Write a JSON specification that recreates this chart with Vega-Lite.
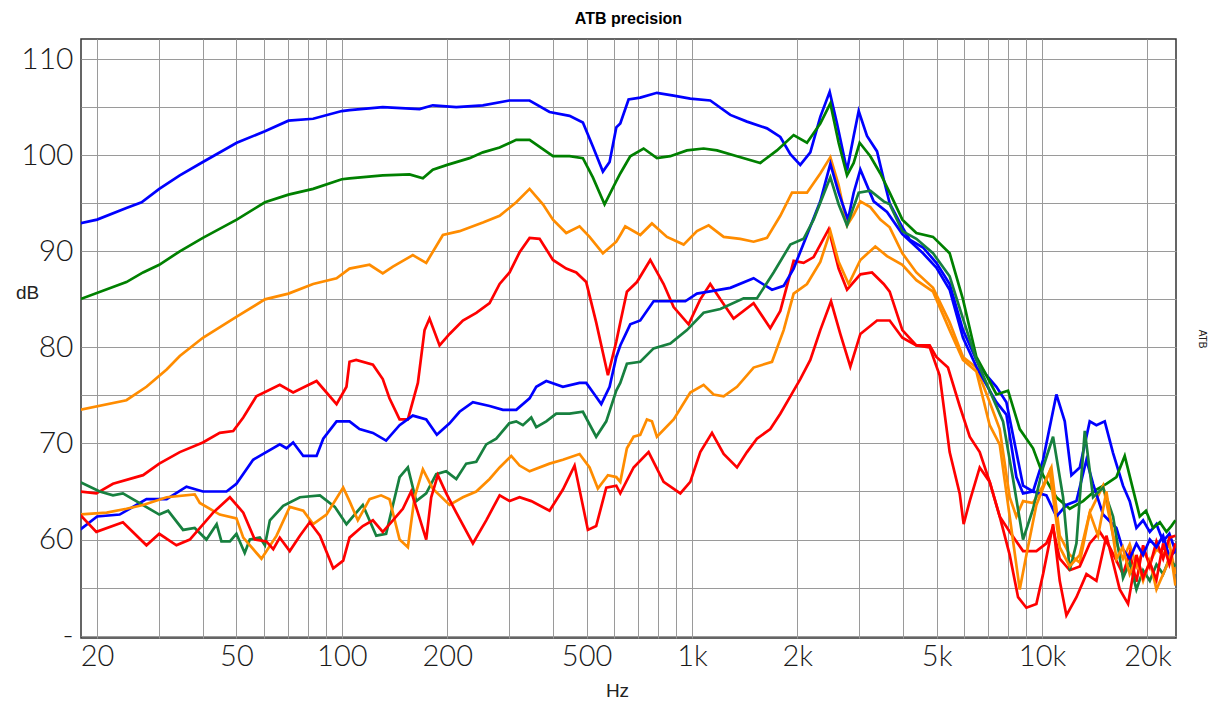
{
"$schema": "https://vega.github.io/schema/vega-lite/v6.json",
"width": 1095, "height": 599,
"autosize": "none",
"padding": {"left": 81, "top": 39, "right": 37, "bottom": 66},
"background": "white",
"title": {"text": "ATB precision", "fontSize": 16, "font": "Liberation Sans", "fontWeight": "bold", "color": "#000", "offset": 12, "anchor": "middle"},
"config": {"view": {"stroke": "#333", "strokeWidth": 1.5}},
"datasets": {
"curves": [
{"s":"B1","f":17.85,"d":92.9},{"s":"B1","f":20,"d":93.3},{"s":"B1","f":24.25,"d":94.5},{"s":"B1","f":26.8,"d":95.1},{"s":"B1","f":30.1,"d":96.5},{"s":"B1","f":34.45,"d":97.9},{"s":"B1","f":40.1,"d":99.3},{"s":"B1","f":50.1,"d":101.3},{"s":"B1","f":60.3,"d":102.5},{"s":"B1","f":70.4,"d":103.6},{"s":"B1","f":82.8,"d":103.8},{"s":"B1","f":100,"d":104.6},{"s":"B1","f":105.2,"d":104.7},{"s":"B1","f":130.9,"d":105.0},{"s":"B1","f":166.7,"d":104.8},{"s":"B1","f":181.9,"d":105.2},{"s":"B1","f":212.3,"d":105.0},{"s":"B1","f":252.9,"d":105.2},{"s":"B1","f":300.8,"d":105.7},{"s":"B1","f":343.8,"d":105.7},{"s":"B1","f":392,"d":104.5},{"s":"B1","f":447.1,"d":104.1},{"s":"B1","f":488.1,"d":103.4},{"s":"B1","f":521.2,"d":100.9},{"s":"B1","f":556.8,"d":98.3},{"s":"B1","f":581.8,"d":99.3},{"s":"B1","f":608,"d":102.9},{"s":"B1","f":624.2,"d":103.3},{"s":"B1","f":659.2,"d":105.8},{"s":"B1","f":711.8,"d":106.0},{"s":"B1","f":794.3,"d":106.5},{"s":"B1","f":886.6,"d":106.2},{"s":"B1","f":989.1,"d":105.9},{"s":"B1","f":1128,"d":105.7},{"s":"B1","f":1287,"d":104.2},{"s":"B1","f":1436,"d":103.5},{"s":"B1","f":1638,"d":102.8},{"s":"B1","f":1788,"d":101.9},{"s":"B1","f":1910,"d":100.1},{"s":"B1","f":2039,"d":99.0},{"s":"B1","f":2178,"d":100.3},{"s":"B1","f":2326,"d":104.0},{"s":"B1","f":2474,"d":106.6},{"s":"B1","f":2596,"d":103.3},{"s":"B1","f":2773,"d":98.4},{"s":"B1","f":2897,"d":102.0},{"s":"B1","f":2994,"d":104.6},{"s":"B1","f":3162,"d":102.0},{"s":"B1","f":3378,"d":100.4},{"s":"B1","f":3529,"d":97.5},{"s":"B1","f":3671,"d":95.0},{"s":"B1","f":3990,"d":92.5},{"s":"B1","f":4187,"d":91.2},{"s":"B1","f":4571,"d":90.4},{"s":"B1","f":4989,"d":88.8},{"s":"B1","f":5446,"d":86.6},{"s":"B1","f":5945,"d":81.8},{"s":"B1","f":6492,"d":78.7},{"s":"B1","f":6934,"d":77.1},{"s":"B1","f":7406,"d":75.9},{"s":"B1","f":7909,"d":74.3},{"s":"B1","f":8446,"d":69.1},{"s":"B1","f":8826,"d":65.6},{"s":"B1","f":9425,"d":65.0},{"s":"B1","f":10066,"d":68.3},{"s":"B1","f":10989,"d":75.1},{"s":"B1","f":11610,"d":72.3},{"s":"B1","f":12131,"d":66.7},{"s":"B1","f":12815,"d":67.5},{"s":"B1","f":13682,"d":72.3},{"s":"B1","f":14298,"d":71.9},{"s":"B1","f":15101,"d":72.3},{"s":"B1","f":15953,"d":69.0},{"s":"B1","f":17033,"d":65.6},{"s":"B1","f":17799,"d":64.0},{"s":"B1","f":18600,"d":61.2},{"s":"B1","f":19434,"d":62.0},{"s":"B1","f":20310,"d":60.8},{"s":"B1","f":21220,"d":61.6},{"s":"B1","f":22170,"d":59.8},{"s":"B1","f":23100,"d":60.6},{"s":"B1","f":24044,"d":58.8},

{"s":"G1","f":17.85,"d":85.0},{"s":"G1","f":24.25,"d":86.8},{"s":"G1","f":27.06,"d":87.8},{"s":"G1","f":30.1,"d":88.6},{"s":"G1","f":34.45,"d":90.0},{"s":"G1","f":40.1,"d":91.4},{"s":"G1","f":50.1,"d":93.3},{"s":"G1","f":60.3,"d":95.1},{"s":"G1","f":70.4,"d":95.9},{"s":"G1","f":82.8,"d":96.5},{"s":"G1","f":100,"d":97.5},{"s":"G1","f":105.2,"d":97.6},{"s":"G1","f":130.9,"d":97.9},{"s":"G1","f":156.1,"d":98.0},{"s":"G1","f":170.4,"d":97.6},{"s":"G1","f":181.9,"d":98.5},{"s":"G1","f":200,"d":99.0},{"s":"G1","f":231.6,"d":99.7},{"s":"G1","f":252.9,"d":100.3},{"s":"G1","f":282.3,"d":100.8},{"s":"G1","f":314.9,"d":101.6},{"s":"G1","f":343.8,"d":101.6},{"s":"G1","f":400.9,"d":99.9},{"s":"G1","f":447.1,"d":99.9},{"s":"G1","f":488.1,"d":99.7},{"s":"G1","f":521.2,"d":97.7},{"s":"G1","f":562.9,"d":94.9},{"s":"G1","f":608,"d":97.3},{"s":"G1","f":624.2,"d":98.1},{"s":"G1","f":666.5,"d":99.9},{"s":"G1","f":727.6,"d":100.7},{"s":"G1","f":794.3,"d":99.7},{"s":"G1","f":867.3,"d":99.9},{"s":"G1","f":967.6,"d":100.5},{"s":"G1","f":1079.7,"d":100.7},{"s":"G1","f":1179,"d":100.5},{"s":"G1","f":1345,"d":99.9},{"s":"G1","f":1568,"d":99.2},{"s":"G1","f":1749,"d":100.5},{"s":"G1","f":1952,"d":102.1},{"s":"G1","f":2131,"d":101.3},{"s":"G1","f":2326,"d":103.3},{"s":"G1","f":2485,"d":105.4},{"s":"G1","f":2624,"d":101.3},{"s":"G1","f":2773,"d":97.9},{"s":"G1","f":2897,"d":99.2},{"s":"G1","f":3013,"d":101.3},{"s":"G1","f":3232,"d":99.9},{"s":"G1","f":3452,"d":98.1},{"s":"G1","f":3671,"d":96.1},{"s":"G1","f":3990,"d":93.3},{"s":"G1","f":4375,"d":91.9},{"s":"G1","f":4882,"d":91.5},{"s":"G1","f":5446,"d":89.8},{"s":"G1","f":5945,"d":85.0},{"s":"G1","f":6492,"d":79.0},{"s":"G1","f":6934,"d":77.1},{"s":"G1","f":7406,"d":75.1},{"s":"G1","f":7996,"d":75.5},{"s":"G1","f":8634,"d":71.5},{"s":"G1","f":9425,"d":69.5},{"s":"G1","f":10066,"d":66.7},{"s":"G1","f":10989,"d":64.4},{"s":"G1","f":11995,"d":63.2},{"s":"G1","f":13096,"d":64.0},{"s":"G1","f":14298,"d":65.2},{"s":"G1","f":15268,"d":65.8},{"s":"G1","f":16306,"d":66.5},{"s":"G1","f":17223,"d":68.7},{"s":"G1","f":18197,"d":65.2},{"s":"G1","f":19010,"d":62.4},{"s":"G1","f":19800,"d":63.0},{"s":"G1","f":20760,"d":61.2},{"s":"G1","f":21700,"d":61.8},{"s":"G1","f":22660,"d":60.8},{"s":"G1","f":23400,"d":61.4},{"s":"G1","f":24044,"d":62.0},

{"s":"O1","f":17.85,"d":73.5},{"s":"O1","f":24.25,"d":74.5},{"s":"O1","f":27.67,"d":75.9},{"s":"O1","f":31.6,"d":77.7},{"s":"O1","f":34.45,"d":79.1},{"s":"O1","f":40.1,"d":81.0},{"s":"O1","f":50.1,"d":83.2},{"s":"O1","f":60.3,"d":85.0},{"s":"O1","f":70.4,"d":85.6},{"s":"O1","f":82.8,"d":86.6},{"s":"O1","f":96.6,"d":87.2},{"s":"O1","f":105.2,"d":88.2},{"s":"O1","f":120.0,"d":88.6},{"s":"O1","f":130.9,"d":87.7},{"s":"O1","f":139.9,"d":88.4},{"s":"O1","f":159.5,"d":89.6},{"s":"O1","f":174.2,"d":88.8},{"s":"O1","f":194.4,"d":91.7},{"s":"O1","f":216.9,"d":92.1},{"s":"O1","f":252.9,"d":93.0},{"s":"O1","f":282.3,"d":93.7},{"s":"O1","f":314.9,"d":95.1},{"s":"O1","f":343.8,"d":96.5},{"s":"O1","f":375.3,"d":94.9},{"s":"O1","f":400.9,"d":93.3},{"s":"O1","f":437.5,"d":91.9},{"s":"O1","f":477.5,"d":92.6},{"s":"O1","f":510.0,"d":91.5},{"s":"O1","f":556.8,"d":89.8},{"s":"O1","f":608,"d":91.0},{"s":"O1","f":624.2,"d":91.7},{"s":"O1","f":644.9,"d":92.6},{"s":"O1","f":711.8,"d":91.7},{"s":"O1","f":768.6,"d":92.9},{"s":"O1","f":848.4,"d":91.5},{"s":"O1","f":946.7,"d":90.7},{"s":"O1","f":1033.4,"d":92.1},{"s":"O1","f":1116,"d":92.7},{"s":"O1","f":1232,"d":91.5},{"s":"O1","f":1374,"d":91.3},{"s":"O1","f":1500,"d":91.0},{"s":"O1","f":1638,"d":91.4},{"s":"O1","f":1788,"d":93.7},{"s":"O1","f":1931,"d":96.1},{"s":"O1","f":2131,"d":96.1},{"s":"O1","f":2326,"d":98.1},{"s":"O1","f":2485,"d":99.8},{"s":"O1","f":2624,"d":96.9},{"s":"O1","f":2773,"d":92.7},{"s":"O1","f":2897,"d":93.8},{"s":"O1","f":3027,"d":95.2},{"s":"O1","f":3232,"d":94.6},{"s":"O1","f":3452,"d":93.3},{"s":"O1","f":3671,"d":92.5},{"s":"O1","f":3990,"d":89.8},{"s":"O1","f":4375,"d":87.8},{"s":"O1","f":4882,"d":86.2},{"s":"O1","f":5446,"d":82.6},{"s":"O1","f":5945,"d":79.0},{"s":"O1","f":6492,"d":77.9},{"s":"O1","f":7087,"d":74.3},{"s":"O1","f":7568,"d":71.5},{"s":"O1","f":8083,"d":64.4},{"s":"O1","f":8446,"d":62.4},{"s":"O1","f":8826,"d":64.0},{"s":"O1","f":9425,"d":63.8},{"s":"O1","f":10066,"d":65.6},{"s":"O1","f":10634,"d":67.5},{"s":"O1","f":11232,"d":60.4},{"s":"O1","f":11995,"d":58.4},{"s":"O1","f":12815,"d":57.6},{"s":"O1","f":13682,"d":62.8},{"s":"O1","f":14938,"d":65.6},{"s":"O1","f":15953,"d":60.4},{"s":"O1","f":17033,"d":58.0},{"s":"O1","f":17800,"d":59.5},{"s":"O1","f":18600,"d":57.2},{"s":"O1","f":19434,"d":58.8},{"s":"O1","f":20310,"d":57.6},{"s":"O1","f":21220,"d":59.0},{"s":"O1","f":22170,"d":58.4},{"s":"O1","f":23100,"d":59.6},{"s":"O1","f":24044,"d":56.4},

{"s":"R1","f":17.85,"d":65.0},{"s":"R1","f":19.9,"d":64.8},{"s":"R1","f":22.2,"d":65.8},{"s":"R1","f":27.06,"d":66.7},{"s":"R1","f":30.1,"d":67.9},{"s":"R1","f":34.45,"d":69.1},{"s":"R1","f":40.1,"d":70.1},{"s":"R1","f":44.8,"d":71.1},{"s":"R1","f":48.95,"d":71.3},{"s":"R1","f":52.3,"d":72.7},{"s":"R1","f":57.0,"d":74.9},{"s":"R1","f":66.5,"d":76.1},{"s":"R1","f":72.6,"d":75.3},{"s":"R1","f":84.7,"d":76.5},{"s":"R1","f":96.6,"d":74.1},{"s":"R1","f":103.1,"d":75.9},{"s":"R1","f":105.2,"d":78.5},{"s":"R1","f":109.9,"d":78.7},{"s":"R1","f":122.7,"d":78.2},{"s":"R1","f":130.9,"d":76.7},{"s":"R1","f":136.8,"d":74.7},{"s":"R1","f":146.2,"d":72.5},{"s":"R1","f":154.4,"d":72.5},{"s":"R1","f":164.9,"d":76.3},{"s":"R1","f":172.3,"d":81.8},{"s":"R1","f":178.0,"d":83.0},{"s":"R1","f":190.2,"d":80.2},{"s":"R1","f":203.1,"d":81.4},{"s":"R1","f":221.7,"d":82.8},{"s":"R1","f":242.1,"d":83.6},{"s":"R1","f":264.3,"d":84.6},{"s":"R1","f":282.3,"d":86.6},{"s":"R1","f":301.4,"d":87.8},{"s":"R1","f":321.9,"d":89.9},{"s":"R1","f":343.8,"d":91.4},{"s":"R1","f":367.2,"d":91.3},{"s":"R1","f":400.9,"d":89.1},{"s":"R1","f":437.5,"d":88.2},{"s":"R1","f":467.2,"d":87.8},{"s":"R1","f":498.9,"d":86.8},{"s":"R1","f":532.7,"d":82.6},{"s":"R1","f":575.5,"d":77.1},{"s":"R1","f":608,"d":80.6},{"s":"R1","f":624.2,"d":82.6},{"s":"R1","f":652.0,"d":85.8},{"s":"R1","f":696.4,"d":86.8},{"s":"R1","f":760.2,"d":89.1},{"s":"R1","f":830.0,"d":86.6},{"s":"R1","f":886.6,"d":84.2},{"s":"R1","f":978.3,"d":82.4},{"s":"R1","f":1056.3,"d":85.0},{"s":"R1","f":1128,"d":86.6},{"s":"R1","f":1205,"d":85.0},{"s":"R1","f":1315,"d":83.0},{"s":"R1","f":1500,"d":84.6},{"s":"R1","f":1674,"d":82.0},{"s":"R1","f":1788,"d":83.8},{"s":"R1","f":1952,"d":89.0},{"s":"R1","f":2084,"d":88.8},{"s":"R1","f":2226,"d":89.4},{"s":"R1","f":2458,"d":92.3},{"s":"R1","f":2624,"d":88.2},{"s":"R1","f":2773,"d":86.0},{"s":"R1","f":3027,"d":87.6},{"s":"R1","f":3268,"d":87.8},{"s":"R1","f":3529,"d":86.6},{"s":"R1","f":3671,"d":85.8},{"s":"R1","f":3990,"d":81.8},{"s":"R1","f":4375,"d":80.2},{"s":"R1","f":4776,"d":80.2},{"s":"R1","f":4989,"d":79.0},{"s":"R1","f":5386,"d":77.9},{"s":"R1","f":5817,"d":73.9},{"s":"R1","f":6214,"d":70.7},{"s":"R1","f":6636,"d":69.1},{"s":"R1","f":7087,"d":66.0},{"s":"R1","f":7568,"d":62.4},{"s":"R1","f":8083,"d":60.8},{"s":"R1","f":8826,"d":58.8},{"s":"R1","f":9634,"d":58.8},{"s":"R1","f":10290,"d":59.6},{"s":"R1","f":10750,"d":61.2},{"s":"R1","f":11232,"d":58.0},{"s":"R1","f":11995,"d":56.8},{"s":"R1","f":12815,"d":57.2},{"s":"R1","f":13682,"d":59.6},{"s":"R1","f":14615,"d":60.8},{"s":"R1","f":15607,"d":59.2},{"s":"R1","f":17033,"d":56.4},{"s":"R1","f":17800,"d":58.6},{"s":"R1","f":18600,"d":55.6},{"s":"R1","f":19434,"d":59.4},{"s":"R1","f":20310,"d":57.2},{"s":"R1","f":21220,"d":59.8},{"s":"R1","f":22170,"d":58.0},{"s":"R1","f":23100,"d":60.2},{"s":"R1","f":24044,"d":60.4},

{"s":"B2","f":17.85,"d":61.0},{"s":"B2","f":20.0,"d":62.4},{"s":"B2","f":23.2,"d":62.6},{"s":"B2","f":27.67,"d":64.2},{"s":"B2","f":31.6,"d":64.2},{"s":"B2","f":36.0,"d":65.5},{"s":"B2","f":40.1,"d":65.0},{"s":"B2","f":46.85,"d":65.0},{"s":"B2","f":50.0,"d":65.8},{"s":"B2","f":55.8,"d":68.3},{"s":"B2","f":58.3,"d":68.7},{"s":"B2","f":66.5,"d":69.9},{"s":"B2","f":69.5,"d":69.5},{"s":"B2","f":72.6,"d":70.1},{"s":"B2","f":77.6,"d":68.7},{"s":"B2","f":84.7,"d":68.7},{"s":"B2","f":88.5,"d":70.5},{"s":"B2","f":96.6,"d":72.3},{"s":"B2","f":105.2,"d":72.3},{"s":"B2","f":112.3,"d":71.5},{"s":"B2","f":122.7,"d":71.1},{"s":"B2","f":133.8,"d":70.3},{"s":"B2","f":146.2,"d":71.9},{"s":"B2","f":159.5,"d":72.9},{"s":"B2","f":174.2,"d":72.5},{"s":"B2","f":186.8,"d":70.9},{"s":"B2","f":203.1,"d":72.1},{"s":"B2","f":216.9,"d":73.3},{"s":"B2","f":236.8,"d":74.3},{"s":"B2","f":264.3,"d":73.9},{"s":"B2","f":288.5,"d":73.5},{"s":"B2","f":314.9,"d":73.5},{"s":"B2","f":343.8,"d":74.7},{"s":"B2","f":359.2,"d":75.9},{"s":"B2","f":383.7,"d":76.5},{"s":"B2","f":428.0,"d":75.9},{"s":"B2","f":477.5,"d":76.3},{"s":"B2","f":498.9,"d":76.3},{"s":"B2","f":526.9,"d":75.1},{"s":"B2","f":550.8,"d":74.1},{"s":"B2","f":581.8,"d":75.9},{"s":"B2","f":608,"d":79.0},{"s":"B2","f":624.2,"d":80.2},{"s":"B2","f":666.5,"d":82.4},{"s":"B2","f":711.8,"d":82.8},{"s":"B2","f":777.0,"d":84.8},{"s":"B2","f":867.3,"d":84.8},{"s":"B2","f":957.1,"d":84.8},{"s":"B2","f":1033.4,"d":85.6},{"s":"B2","f":1116,"d":85.8},{"s":"B2","f":1287,"d":86.2},{"s":"B2","f":1500,"d":87.2},{"s":"B2","f":1693,"d":86.0},{"s":"B2","f":1828,"d":86.4},{"s":"B2","f":1952,"d":88.2},{"s":"B2","f":2131,"d":91.7},{"s":"B2","f":2326,"d":95.2},{"s":"B2","f":2485,"d":99.1},{"s":"B2","f":2624,"d":96.1},{"s":"B2","f":2791,"d":93.3},{"s":"B2","f":2897,"d":96.1},{"s":"B2","f":3027,"d":98.5},{"s":"B2","f":3304,"d":95.2},{"s":"B2","f":3607,"d":94.1},{"s":"B2","f":3990,"d":91.8},{"s":"B2","f":4571,"d":89.8},{"s":"B2","f":4989,"d":88.3},{"s":"B2","f":5446,"d":86.0},{"s":"B2","f":5945,"d":81.0},{"s":"B2","f":6492,"d":78.0},{"s":"B2","f":7087,"d":75.5},{"s":"B2","f":7406,"d":74.3},{"s":"B2","f":7909,"d":73.0},{"s":"B2","f":8446,"d":66.5},{"s":"B2","f":8826,"d":64.8},{"s":"B2","f":9425,"d":65.0},{"s":"B2","f":10290,"d":64.6},{"s":"B2","f":10989,"d":62.4},{"s":"B2","f":11737,"d":63.6},{"s":"B2","f":12537,"d":64.0},{"s":"B2","f":13389,"d":68.3},{"s":"B2","f":13987,"d":65.8},{"s":"B2","f":14938,"d":62.6},{"s":"B2","f":16306,"d":61.2},{"s":"B2","f":17000,"d":59.0},{"s":"B2","f":17799,"d":58.0},{"s":"B2","f":18600,"d":59.6},{"s":"B2","f":19434,"d":58.4},{"s":"B2","f":20310,"d":60.0},{"s":"B2","f":21220,"d":59.2},{"s":"B2","f":22170,"d":60.4},{"s":"B2","f":23100,"d":58.2},{"s":"B2","f":24044,"d":58.8},

{"s":"G2","f":17.85,"d":66.0},{"s":"G2","f":20.35,"d":65.0},{"s":"G2","f":22.2,"d":64.6},{"s":"G2","f":23.7,"d":64.8},{"s":"G2","f":30.1,"d":62.6},{"s":"G2","f":31.9,"d":63.0},{"s":"G2","f":35.2,"d":61.0},{"s":"G2","f":38.0,"d":61.2},{"s":"G2","f":41.05,"d":60.0},{"s":"G2","f":43.9,"d":61.6},{"s":"G2","f":45.3,"d":59.8},{"s":"G2","f":47.9,"d":59.8},{"s":"G2","f":50.0,"d":60.6},{"s":"G2","f":52.8,"d":58.6},{"s":"G2","f":54.6,"d":60.0},{"s":"G2","f":58.3,"d":60.2},{"s":"G2","f":60.3,"d":59.4},{"s":"G2","f":62.3,"d":62.0},{"s":"G2","f":68.0,"d":63.5},{"s":"G2","f":75.9,"d":64.4},{"s":"G2","f":86.6,"d":64.6},{"s":"G2","f":95.5,"d":63.4},{"s":"G2","f":103.1,"d":61.6},{"s":"G2","f":114.8,"d":63.6},{"s":"G2","f":125.4,"d":60.4},{"s":"G2","f":133.8,"d":60.6},{"s":"G2","f":146.2,"d":66.5},{"s":"G2","f":154.4,"d":67.5},{"s":"G2","f":163.1,"d":64.0},{"s":"G2","f":174.2,"d":64.8},{"s":"G2","f":186.0,"d":66.8},{"s":"G2","f":198.7,"d":67.1},{"s":"G2","f":212.3,"d":66.3},{"s":"G2","f":226.6,"d":67.9},{"s":"G2","f":242.1,"d":68.1},{"s":"G2","f":258.5,"d":69.9},{"s":"G2","f":276.1,"d":70.5},{"s":"G2","f":300.8,"d":72.1},{"s":"G2","f":314.9,"d":72.3},{"s":"G2","f":329.0,"d":71.9},{"s":"G2","f":347.6,"d":72.7},{"s":"G2","f":359.2,"d":71.7},{"s":"G2","f":383.7,"d":72.3},{"s":"G2","f":409.7,"d":73.1},{"s":"G2","f":447.1,"d":73.1},{"s":"G2","f":488.1,"d":73.3},{"s":"G2","f":532.7,"d":70.7},{"s":"G2","f":569.2,"d":72.3},{"s":"G2","f":608,"d":75.5},{"s":"G2","f":624.2,"d":76.3},{"s":"G2","f":652.0,"d":78.3},{"s":"G2","f":711.8,"d":78.5},{"s":"G2","f":777.0,"d":79.9},{"s":"G2","f":867.3,"d":80.4},{"s":"G2","f":967.6,"d":81.8},{"s":"G2","f":1079.7,"d":83.6},{"s":"G2","f":1205,"d":84.0},{"s":"G2","f":1405,"d":85.1},{"s":"G2","f":1533,"d":85.1},{"s":"G2","f":1711,"d":87.8},{"s":"G2","f":1910,"d":90.7},{"s":"G2","f":2084,"d":91.3},{"s":"G2","f":2226,"d":93.3},{"s":"G2","f":2485,"d":97.7},{"s":"G2","f":2624,"d":94.9},{"s":"G2","f":2773,"d":92.7},{"s":"G2","f":2994,"d":96.1},{"s":"G2","f":3232,"d":96.3},{"s":"G2","f":3529,"d":95.2},{"s":"G2","f":3671,"d":94.9},{"s":"G2","f":3990,"d":92.1},{"s":"G2","f":4375,"d":91.3},{"s":"G2","f":4882,"d":89.8},{"s":"G2","f":5446,"d":87.4},{"s":"G2","f":5945,"d":83.0},{"s":"G2","f":6492,"d":78.7},{"s":"G2","f":7087,"d":75.5},{"s":"G2","f":7736,"d":72.3},{"s":"G2","f":8262,"d":66.3},{"s":"G2","f":8826,"d":60.0},{"s":"G2","f":9425,"d":63.2},{"s":"G2","f":10066,"d":67.5},{"s":"G2","f":10750,"d":70.7},{"s":"G2","f":11482,"d":64.4},{"s":"G2","f":11995,"d":56.8},{"s":"G2","f":12537,"d":59.6},{"s":"G2","f":13243,"d":71.3},{"s":"G2","f":13987,"d":64.4},{"s":"G2","f":14938,"d":65.4},{"s":"G2","f":15953,"d":62.4},{"s":"G2","f":17033,"d":56.0},{"s":"G2","f":17800,"d":57.6},{"s":"G2","f":18600,"d":54.8},{"s":"G2","f":19434,"d":56.8},{"s":"G2","f":20310,"d":55.7},{"s":"G2","f":21220,"d":57.4},{"s":"G2","f":22170,"d":56.4},{"s":"G2","f":23100,"d":58.0},{"s":"G2","f":24044,"d":57.2},

{"s":"O2","f":17.85,"d":62.6},{"s":"O2","f":21.3,"d":62.8},{"s":"O2","f":24.25,"d":63.2},{"s":"O2","f":27.06,"d":63.6},{"s":"O2","f":31.6,"d":64.4},{"s":"O2","f":38.0,"d":64.7},{"s":"O2","f":39.3,"d":63.8},{"s":"O2","f":44.8,"d":62.6},{"s":"O2","f":50.0,"d":62.2},{"s":"O2","f":52.3,"d":60.2},{"s":"O2","f":58.95,"d":58.0},{"s":"O2","f":65.1,"d":60.4},{"s":"O2","f":71.0,"d":63.4},{"s":"O2","f":77.6,"d":63.0},{"s":"O2","f":82.8,"d":61.6},{"s":"O2","f":90.4,"d":62.6},{"s":"O2","f":100.9,"d":65.4},{"s":"O2","f":105.2,"d":64.0},{"s":"O2","f":111.1,"d":62.0},{"s":"O2","f":120.0,"d":64.2},{"s":"O2","f":129.5,"d":64.6},{"s":"O2","f":136.8,"d":64.2},{"s":"O2","f":146.2,"d":60.0},{"s":"O2","f":154.4,"d":59.2},{"s":"O2","f":161.3,"d":64.4},{"s":"O2","f":170.4,"d":67.3},{"s":"O2","f":181.9,"d":65.3},{"s":"O2","f":203.1,"d":63.6},{"s":"O2","f":221.7,"d":64.4},{"s":"O2","f":242.1,"d":65.0},{"s":"O2","f":264.3,"d":66.3},{"s":"O2","f":282.3,"d":67.5},{"s":"O2","f":304.7,"d":68.7},{"s":"O2","f":321.9,"d":67.7},{"s":"O2","f":343.8,"d":67.1},{"s":"O2","f":392.0,"d":67.9},{"s":"O2","f":428.0,"d":68.3},{"s":"O2","f":477.5,"d":68.9},{"s":"O2","f":510.0,"d":67.5},{"s":"O2","f":538.6,"d":65.3},{"s":"O2","f":575.5,"d":66.7},{"s":"O2","f":608,"d":66.5},{"s":"O2","f":624.2,"d":66.0},{"s":"O2","f":652.0,"d":69.5},{"s":"O2","f":681.3,"d":70.7},{"s":"O2","f":711.8,"d":70.9},{"s":"O2","f":743.7,"d":72.5},{"s":"O2","f":768.6,"d":72.3},{"s":"O2","f":794.3,"d":70.7},{"s":"O2","f":886.6,"d":72.5},{"s":"O2","f":989.1,"d":75.3},{"s":"O2","f":1079.7,"d":76.1},{"s":"O2","f":1153,"d":75.1},{"s":"O2","f":1232,"d":74.9},{"s":"O2","f":1345,"d":75.9},{"s":"O2","f":1500,"d":77.9},{"s":"O2","f":1693,"d":78.5},{"s":"O2","f":1828,"d":81.8},{"s":"O2","f":1952,"d":85.6},{"s":"O2","f":2131,"d":86.6},{"s":"O2","f":2326,"d":88.9},{"s":"O2","f":2485,"d":92.1},{"s":"O2","f":2624,"d":88.9},{"s":"O2","f":2803,"d":86.6},{"s":"O2","f":3027,"d":89.1},{"s":"O2","f":3340,"d":90.5},{"s":"O2","f":3607,"d":89.5},{"s":"O2","f":3990,"d":88.6},{"s":"O2","f":4375,"d":87.0},{"s":"O2","f":4882,"d":85.8},{"s":"O2","f":5446,"d":81.8},{"s":"O2","f":5945,"d":78.7},{"s":"O2","f":6492,"d":77.5},{"s":"O2","f":7087,"d":71.9},{"s":"O2","f":7568,"d":69.9},{"s":"O2","f":8083,"d":62.4},{"s":"O2","f":8634,"d":54.8},{"s":"O2","f":9020,"d":58.4},{"s":"O2","f":9634,"d":63.6},{"s":"O2","f":10517,"d":67.1},{"s":"O2","f":11232,"d":59.2},{"s":"O2","f":11995,"d":57.2},{"s":"O2","f":12815,"d":58.4},{"s":"O2","f":13682,"d":62.8},{"s":"O2","f":14454,"d":60.4},{"s":"O2","f":15268,"d":65.0},{"s":"O2","f":16306,"d":58.0},{"s":"O2","f":17000,"d":59.2},{"s":"O2","f":17799,"d":56.4},{"s":"O2","f":18600,"d":58.0},{"s":"O2","f":19434,"d":55.7},{"s":"O2","f":20310,"d":57.8},{"s":"O2","f":21220,"d":54.8},{"s":"O2","f":22660,"d":57.2},{"s":"O2","f":23300,"d":58.6},{"s":"O2","f":24044,"d":55.2},

{"s":"R2","f":17.85,"d":62.6},{"s":"R2","f":19.9,"d":60.8},{"s":"R2","f":23.7,"d":61.8},{"s":"R2","f":27.67,"d":59.4},{"s":"R2","f":30.1,"d":60.6},{"s":"R2","f":33.7,"d":59.4},{"s":"R2","f":36.8,"d":60.0},{"s":"R2","f":42.9,"d":62.8},{"s":"R2","f":47.9,"d":64.4},{"s":"R2","f":52.3,"d":62.8},{"s":"R2","f":56.4,"d":60.0},{"s":"R2","f":60.9,"d":59.8},{"s":"R2","f":63.7,"d":59.0},{"s":"R2","f":66.5,"d":60.2},{"s":"R2","f":71.0,"d":58.8},{"s":"R2","f":75.9,"d":60.4},{"s":"R2","f":81.0,"d":61.8},{"s":"R2","f":86.6,"d":60.4},{"s":"R2","f":94.5,"d":57.0},{"s":"R2","f":100.9,"d":57.8},{"s":"R2","f":105.2,"d":60.2},{"s":"R2","f":114.8,"d":61.4},{"s":"R2","f":122.7,"d":62.0},{"s":"R2","f":130.9,"d":60.8},{"s":"R2","f":139.9,"d":62.0},{"s":"R2","f":149.4,"d":63.2},{"s":"R2","f":157.8,"d":65.0},{"s":"R2","f":164.9,"d":62.8},{"s":"R2","f":174.2,"d":60.0},{"s":"R2","f":180.0,"d":64.4},{"s":"R2","f":188.0,"d":66.7},{"s":"R2","f":198.7,"d":64.8},{"s":"R2","f":212.3,"d":62.8},{"s":"R2","f":236.8,"d":59.6},{"s":"R2","f":258.5,"d":62.0},{"s":"R2","f":282.3,"d":64.6},{"s":"R2","f":301.4,"d":64.0},{"s":"R2","f":321.9,"d":64.4},{"s":"R2","f":347.6,"d":64.0},{"s":"R2","f":392.0,"d":63.0},{"s":"R2","f":428.0,"d":65.2},{"s":"R2","f":462.1,"d":67.7},{"s":"R2","f":504.4,"d":61.0},{"s":"R2","f":532.7,"d":61.4},{"s":"R2","f":569.2,"d":65.4},{"s":"R2","f":608,"d":65.6},{"s":"R2","f":624.2,"d":64.8},{"s":"R2","f":681.3,"d":67.5},{"s":"R2","f":751.9,"d":69.1},{"s":"R2","f":830.0,"d":66.0},{"s":"R2","f":926.4,"d":64.8},{"s":"R2","f":989.1,"d":66.0},{"s":"R2","f":1056.3,"d":69.1},{"s":"R2","f":1141,"d":71.1},{"s":"R2","f":1232,"d":68.9},{"s":"R2","f":1345,"d":67.5},{"s":"R2","f":1436,"d":69.1},{"s":"R2","f":1533,"d":70.5},{"s":"R2","f":1674,"d":71.5},{"s":"R2","f":1788,"d":73.1},{"s":"R2","f":1910,"d":74.9},{"s":"R2","f":2039,"d":76.7},{"s":"R2","f":2178,"d":78.7},{"s":"R2","f":2326,"d":81.8},{"s":"R2","f":2496,"d":84.8},{"s":"R2","f":2653,"d":81.4},{"s":"R2","f":2834,"d":78.0},{"s":"R2","f":3027,"d":81.4},{"s":"R2","f":3378,"d":82.8},{"s":"R2","f":3671,"d":82.8},{"s":"R2","f":3990,"d":81.0},{"s":"R2","f":4375,"d":80.2},{"s":"R2","f":4776,"d":80.0},{"s":"R2","f":5099,"d":77.1},{"s":"R2","f":5446,"d":69.1},{"s":"R2","f":5817,"d":64.8},{"s":"R2","f":5971,"d":61.6},{"s":"R2","f":6214,"d":64.0},{"s":"R2","f":6636,"d":67.5},{"s":"R2","f":7087,"d":66.0},{"s":"R2","f":7568,"d":62.4},{"s":"R2","f":8083,"d":58.4},{"s":"R2","f":8540,"d":54.0},{"s":"R2","f":9020,"d":52.9},{"s":"R2","f":9634,"d":53.3},{"s":"R2","f":10066,"d":56.4},{"s":"R2","f":10750,"d":61.6},{"s":"R2","f":11232,"d":55.7},{"s":"R2","f":11737,"d":52.1},{"s":"R2","f":12537,"d":54.0},{"s":"R2","f":13389,"d":56.4},{"s":"R2","f":14298,"d":55.7},{"s":"R2","f":15268,"d":60.4},{"s":"R2","f":16670,"d":54.8},{"s":"R2","f":17604,"d":53.3},{"s":"R2","f":18600,"d":58.4},{"s":"R2","f":19434,"d":56.0},{"s":"R2","f":20310,"d":57.6},{"s":"R2","f":21220,"d":55.8},{"s":"R2","f":22170,"d":59.6},{"s":"R2","f":23100,"d":57.4},{"s":"R2","f":24044,"d":59.6}
]
},
"data": {"name": "curves"},
"layer": [
{
"mark": {"type": "line", "strokeWidth": 2.7, "clip": true},
"encoding": {
"x": {"field": "f", "type": "quantitative",
 "scale": {"type": "log", "domain": [17.99, 24130], "nice": false},
 "axis": {"values": [20,30,40,50,60,70,80,90,100,200,300,400,500,600,700,800,900,1000,2000,3000,4000,5000,6000,7000,8000,9000,10000,20000],
  "labelExpr": "indexof([20,50,100,200,500,1000,2000,5000,10000,20000], datum.value) < 0 ? '' : (datum.value >= 1000 ? (datum.value/1000) + 'k' : '' + datum.value)",
  "grid": true, "gridColor": "#9a9a9a", "gridWidth": 1, "ticks": false, "domain": false,
  "labelFont": "Lato", "labelFontWeight": 300, "labelFontSize": 29, "labelColor": "#1a1a1a", "labelPadding": 4, "labelFlush": false, "labelOverlap": false,
  "title": "Hz", "titleFont": "Liberation Sans", "titleFontWeight": "normal", "titleFontSize": 19, "titleColor": "#222", "titleX": 536, "titleY": 52, "titleBaseline": "middle", "titleAlign": "center"}},
"y": {"field": "d", "type": "quantitative",
 "scale": {"domain": [49.75, 112.1], "nice": false, "zero": false},
 "axis": {"values": [50,55,60,65,70,75,80,85,90,95,100,105,110],
  "labelExpr": "datum.value == 50 ? '-' : ((datum.value % 10 == 0) ? '' + datum.value : '')",
  "grid": true, "gridColor": "#9a9a9a", "gridWidth": 1, "ticks": false, "domain": false,
  "labelFont": "Lato", "labelFontWeight": 300, "labelFontSize": 30, "labelColor": "#1a1a1a", "labelPadding": 8,
  "title": "dB", "titleFont": "Liberation Sans", "titleFontWeight": "normal", "titleFontSize": 19, "titleColor": "#222", "titleAngle": 0, "titleX": -54, "titleY": 253, "titleAlign": "center", "titleBaseline": "middle"}},
"color": {"field": "s", "type": "nominal", "legend": null,
 "scale": {"domain": ["B1","G1","O1","R1","B2","G2","O2","R2"], "range": ["#0000ff","#008000","#ff8c00","#ff0000","#0000ff","#17803f","#ff8c00","#ff0000"]}}
}
},
{
"mark": {"type": "line", "opacity": 0, "strokeOpacity": 0},
"encoding": {
"x": {"field": "f", "type": "quantitative", "scale": {"type": "log", "domain": [17.99, 24130], "nice": false}},
"y": {"field": "d", "type": "quantitative", "scale": {"domain": [49.75, 112.1], "nice": false, "zero": false},
 "axis": {"orient": "right", "labels": false, "ticks": false, "domain": false, "grid": false,
  "title": "ATB", "titleFont": "Liberation Sans", "titleFontWeight": "normal", "titleFontSize": 10, "titleColor": "#222", "titleAngle": 90, "titlePadding": 20}}
}
}
],
"resolve": {"axis": {"y": "independent"}}
}
